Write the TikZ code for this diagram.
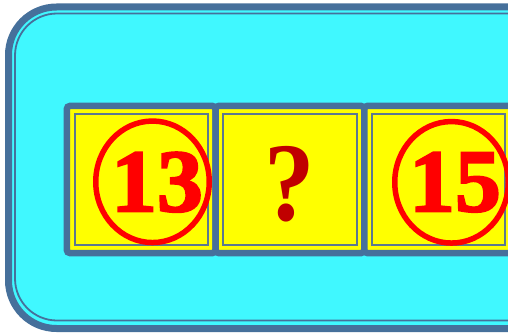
\documentclass[tikz,border=0pt]{standalone}
\usepackage{fontspec}
\setmainfont{Liberation Serif}
\newfontfamily\heavyserif[FakeBold=2.5]{Liberation Serif Bold}
\usetikzlibrary{shapes.geometric}
\definecolor{frameblue}{RGB}{70,112,155}
\definecolor{linegrey}{RGB}{92,120,145}
\definecolor{bgcyan}{RGB}{64,248,255}
\definecolor{cellyellow}{RGB}{255,255,0}
\definecolor{numred}{RGB}{255,0,0}
\definecolor{qred}{RGB}{192,0,0}
\tikzset{
  outerframe/.style={line width=7pt, draw=frameblue, fill=bgcyan, rounded corners=48pt},
  innerframe/.style={line width=1.8pt, draw=frameblue, rounded corners=42pt},
  cellbox/.style={rectangle, draw=frameblue, fill=cellyellow, line width=6.5pt,
    rounded corners=3pt, minimum width=148.7pt, minimum height=147pt, inner sep=0pt, outer sep=0pt},
  cellline/.style={draw=linegrey, line width=1.9pt},
  ring/.style={ellipse, draw=numred, line width=5.5pt, minimum width=113.5pt,
    minimum height=121.5pt, inner sep=0pt, outer sep=0pt},
  numtext/.style={inner sep=0pt, text=numred, font=\fontsize{89}{89}\heavyserif},
  qtext/.style={inner sep=0pt, text=qred, font=\fontsize{112}{112}\selectfont\bfseries}
}
\begin{document}
\begin{tikzpicture}[x=1pt,y=-1pt]
\useasboundingbox (0,0) rectangle (508,334);
\clip (0,0) rectangle (508,334);
% outer frame
\draw[outerframe] (8.5,7) rectangle (620,328.5);
\draw[innerframe] (15,13.5) rectangle (620,320.5);
% cells
\node[cellbox] (b1) at (141.2,179.5) {};
\node[cellbox] (b2) at (289.9,179.5) {};
\node[cellbox] (b3) at (438.6,179.5) {};
\foreach \b in {b1,b2,b3}{
  \draw[cellline] ([shift={(7.7,7.8)}]\b.north west) rectangle ([shift={(-7.7,-7.8)}]\b.south east);
}
% circled numbers
\node[ring] (r1) at (152.5,181.8) {};
\node[ring] (r3) at (451.5,182.3) {};
\node[numtext] (n1) at (157,182.2) {\scalebox{1.03}[1]{13}};
\node[numtext] (n3) at (455,182.2) {\scalebox{1.03}[1]{15}};
% question mark
\node[qtext] (q) at (290,184.6) {\scalebox{0.9}[1]{?}};
\end{tikzpicture}
\end{document}
